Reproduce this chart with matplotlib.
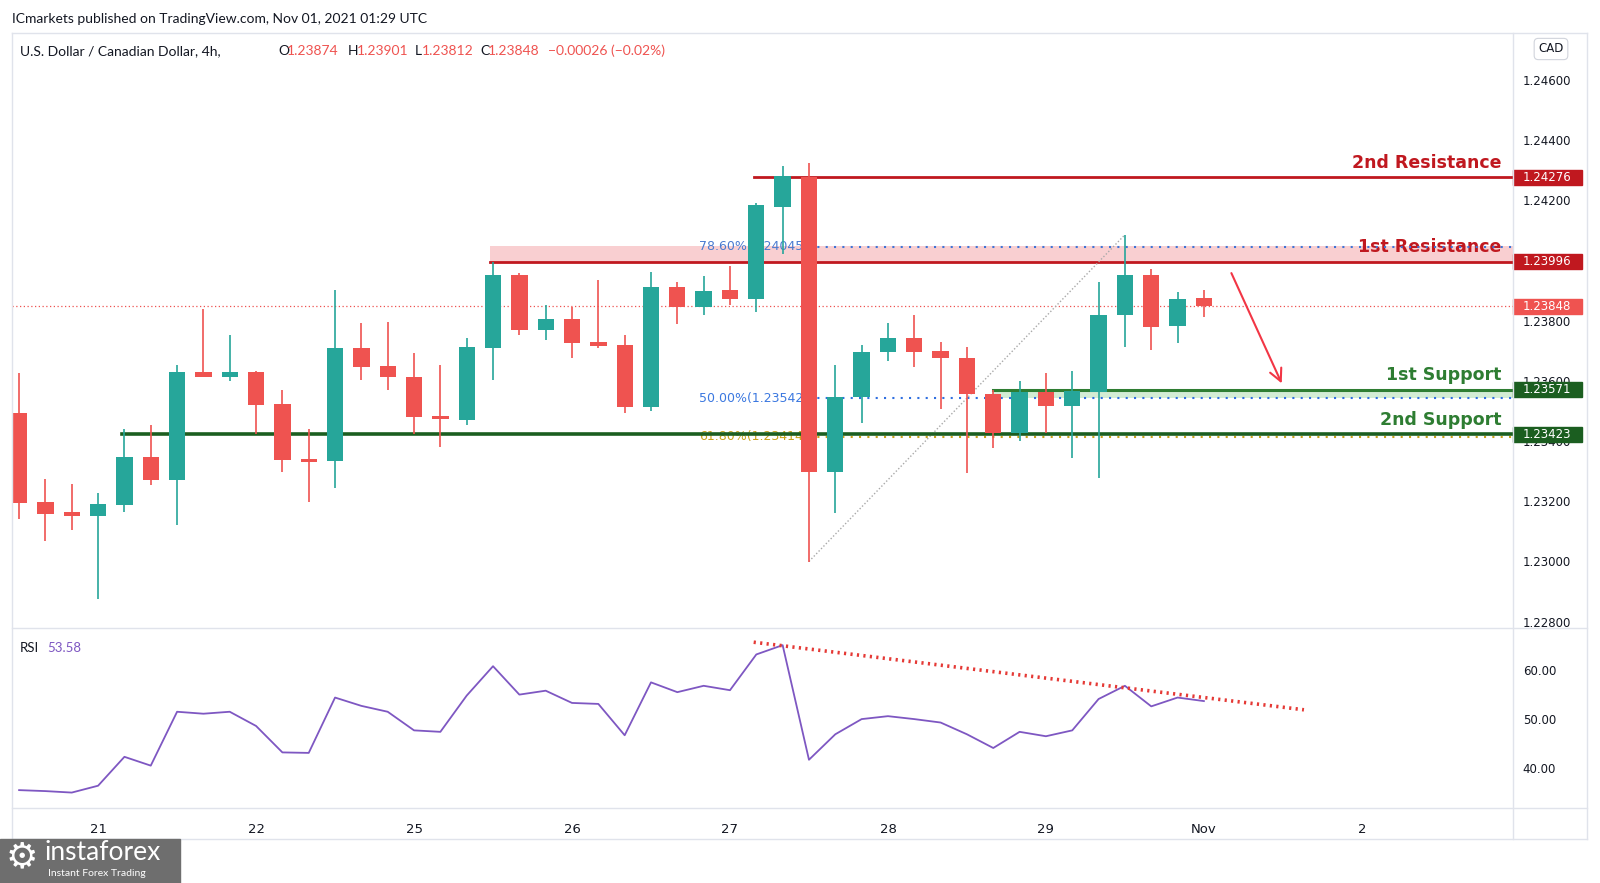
import matplotlib
matplotlib.use("Agg")
import matplotlib.pyplot as plt
from matplotlib.lines import Line2D
from matplotlib.patches import Rectangle
import matplotlib.transforms as mtrans
import numpy as np

# USD/CAD 4h candles (index 0 .. 45)
opens = [1.23492, 1.23197, 1.23164, 1.23152, 1.23189, 1.23347, 1.23270, 1.23628, 1.23614, 1.23629,
         1.23523, 1.23340, 1.23334, 1.23708, 1.23649, 1.23614, 1.23484, 1.23470, 1.23710, 1.23952,
         1.23767, 1.23805, 1.23729, 1.23719, 1.23514, 1.23913, 1.23844, 1.23902, 1.23870, 1.24178,
         1.24278, 1.23298, 1.23545, 1.23695, 1.23741, 1.23699, 1.23677, 1.23556, 1.23425, 1.23562,
         1.23517, 1.23564, 1.23820, 1.23951, 1.23783, 1.23874]
highs = [1.23627, 1.23275, 1.23257, 1.23226, 1.23440, 1.23453, 1.23651, 1.23838, 1.23752, 1.23633,
         1.23569, 1.23440, 1.23901, 1.23793, 1.23796, 1.23691, 1.23652, 1.23743, 1.23996, 1.23957,
         1.23851, 1.23846, 1.23935, 1.23752, 1.23960, 1.23928, 1.23948, 1.23981, 1.24190, 1.24313,
         1.24324, 1.23652, 1.23719, 1.23791, 1.23820, 1.23730, 1.23713, 1.23569, 1.23599, 1.23625,
         1.23633, 1.23929, 1.24084, 1.23971, 1.23896, 1.23901]
lows = [1.23142, 1.23068, 1.23106, 1.22874, 1.23165, 1.23255, 1.23122, 1.23611, 1.23600, 1.23423,
        1.23298, 1.23198, 1.23243, 1.23603, 1.23569, 1.23423, 1.23381, 1.23453, 1.23603, 1.23752,
        1.23735, 1.23675, 1.23708, 1.23494, 1.23498, 1.23787, 1.23820, 1.23852, 1.23827, 1.24021,
        1.22999, 1.23160, 1.23461, 1.23667, 1.23645, 1.23505, 1.23295, 1.23376, 1.23400, 1.23425,
        1.23345, 1.23276, 1.23711, 1.23702, 1.23724, 1.23812]
closes = [1.23193, 1.23159, 1.23152, 1.23191, 1.23347, 1.23270, 1.23629, 1.23614, 1.23629, 1.23521,
          1.23337, 1.23331, 1.23708, 1.23647, 1.23611, 1.23481, 1.23472, 1.23713, 1.23952, 1.23768,
          1.23805, 1.23724, 1.23717, 1.23514, 1.23913, 1.23844, 1.23899, 1.23870, 1.24184, 1.24280,
          1.23298, 1.23545, 1.23695, 1.23741, 1.23697, 1.23675, 1.23555, 1.23425, 1.23562, 1.23517,
          1.23566, 1.23820, 1.23951, 1.23780, 1.23871, 1.23848]
rsi = [35.4, 35.2, 34.9, 36.3, 42.2, 40.4, 51.4, 51.0, 51.4, 48.5, 43.1, 43.0, 54.3, 52.6, 51.4,
       47.6, 47.3, 54.7, 60.7, 54.9, 55.7, 53.2, 53.0, 46.6, 57.4, 55.4, 56.7, 55.8, 63.1, 65.0,
       41.6, 46.8, 49.9, 50.5, 49.9, 49.2, 46.8, 44.0, 47.3, 46.4, 47.6, 54.0, 56.7, 52.5, 54.3, 53.58]

date_pos = [3, 9, 15, 21, 27, 33, 39, 45, 51]
date_labels = ["21", "22", "25", "26", "27", "28", "29", "Nov", "2"]
price_ticks = [1.228, 1.230, 1.232, 1.234, 1.236, 1.238, 1.240, 1.242, 1.244, 1.246]

res2, res1, last, sup1, sup2 = 1.24276, 1.23996, 1.23848, 1.23571, 1.23423
fib786, fib50, fib618 = 1.24045, 1.23542, 1.23414

GREEN, RED = "#26a69a", "#ef5350"
DRED, DGREEN = "#c0181f", "#1b5e20"
TXT = "#131722"
GRID = "#e0e3eb"

plt.rcParams['font.family'] = ['DejaVu Sans']

fig = plt.figure(figsize=(16, 8.83), dpi=100)
W, H = 1600.0, 883.0
def fx(x): return x / W
def fy(y): return 1 - y / H

ax = fig.add_axes([fx(12), fy(628), fx(1513) - fx(12), fy(33) - fy(628)])
ax_r = fig.add_axes([fx(12), fy(808), fx(1513) - fx(12), fy(628) - fy(808)], sharex=ax)

x = np.arange(len(opens))
o, h, l, c = map(np.asarray, (opens, highs, lows, closes))
cols = [GREEN if cc >= oo else RED for oo, cc in zip(o, c)]

# candles
ax.vlines(x, l, h, colors=cols, lw=1.2, zorder=4)
body = np.maximum(np.abs(c - o), 0.00004)
ax.bar(x, body, bottom=np.minimum(o, c), width=0.62, color=cols, zorder=5)

xmax = 56.74
# levels
ax.axhline(last, color=RED, lw=0.9, ls=(0, (1, 2)), zorder=2)
ax.fill_between([17.9, xmax], res1, 1.24047, color="#f9cfd1", zorder=1, lw=0)
ax.plot([17.9, xmax], [res1, res1], color=DRED, lw=2, zorder=3)
ax.plot([27.9, xmax], [res2, res2], color=DRED, lw=2, zorder=3)
ax.fill_between([37.0, xmax], 1.23542, sup1, color="#d3ecd4", zorder=1, lw=0)
ax.plot([37.0, xmax], [sup1, sup1], color="#2e7d32", lw=2.2, zorder=3)
ax.plot([3.9, xmax], [sup2, sup2], color=DGREEN, lw=2.6, zorder=3.5)

# fib levels
ax.plot([30, xmax], [fib786, fib786], color="#3d74d6", lw=1.5, ls=(0, (1, 3)), zorder=3)
ax.plot([30, xmax], [fib50, fib50], color="#2f6fe0", lw=1.5, ls=(0, (1, 3)), zorder=3)
ax.plot([30, xmax], [fib618, fib618], color="#c9a21a", lw=1.5, ls=(0, (1, 3)), zorder=2.5)
ax.plot([30, 42], [1.23000, 1.24085], color="#a9a9a9", lw=1, ls=(0, (1, 1.5)), zorder=3)
ax.text(29.95, fib786, "78.60%(1.24045)", color="#4a7bd0", fontsize=9, ha="right", va="center", zorder=2)
ax.text(29.95, fib50, "50.00%(1.23542)", color="#3b78e0", fontsize=9, ha="right", va="center", zorder=2)
ax.text(29.95, fib618, "61.80%(1.23414)", color="#c9a21a", fontsize=9, ha="right", va="center", zorder=2)

# labels
ax.text(56.3, 1.24322, "2nd Resistance", color=DRED, fontsize=12.5, fontweight="bold", ha="right", va="center", zorder=6)
ax.text(56.3, 1.24044, "1st Resistance", color=DRED, fontsize=12.5, fontweight="bold", ha="right", va="center", zorder=2)
ax.text(56.3, 1.23620, "1st Support", color="#2e7d32", fontsize=12.5, fontweight="bold", ha="right", va="center", zorder=6)
ax.text(56.3, 1.23471, "2nd Support", color="#2e7d32", fontsize=12.5, fontweight="bold", ha="right", va="center", zorder=6)

ax.annotate("", xy=(48.0, 1.23583), xytext=(46.0, 1.23966),
            arrowprops=dict(arrowstyle="->", color="#f23645", lw=1.5, mutation_scale=22), zorder=6)

ax.set_xlim(-0.27, xmax)
ax.set_ylim(1.22779, 1.24755)
ax.yaxis.tick_right()
ax.set_yticks(price_ticks)
ax.set_yticklabels([f"{p:.5f}" for p in price_ticks])
ax.tick_params(axis="y", length=0, pad=7, labelsize=8.5, labelcolor=TXT)
ax.tick_params(axis="x", length=0, labelbottom=False)
for s in ax.spines.values():
    s.set_visible(False)

# price label boxes on the right
bt = mtrans.blended_transform_factory(fig.transFigure, ax.transData)
for val, col in [(res2, DRED), (res1, DRED), (last, RED), (sup1, DGREEN), (sup2, DGREEN)]:
    ax.add_patch(Rectangle((fx(1513), val - 0.00025), fx(1582) - fx(1513), 0.0005,
                           transform=bt, color=col, clip_on=False, zorder=7))
    ax.text(fx(1523), val, f"{val:.5f}", transform=bt, color="white", fontsize=8.5,
            ha="left", va="center", clip_on=False, zorder=8)

# RSI
ax_r.plot(x, rsi, color="#7e57c2", lw=1.3)
ax_r.plot([27.9, 48.8], [65.6, 51.8], color="#e53935", lw=2.6, ls=(0, (0.6, 1.2)))
ax_r.set_ylim(31.75, 68.5)
ax_r.yaxis.tick_right()
ax_r.set_yticks([40, 50, 60])
ax_r.set_yticklabels(["40.00", "50.00", "60.00"])
ax_r.tick_params(axis="y", length=0, pad=7, labelsize=8.5, labelcolor=TXT)
ax_r.set_xticks(date_pos)
ax_r.set_xticklabels(date_labels)
ax_r.tick_params(axis="x", length=0, pad=11, labelsize=9.5, labelcolor=TXT)
for s in ax_r.spines.values():
    s.set_visible(False)

# frame lines
for (x0, y0, x1, y1) in [(12, 33, 1587, 33), (12, 839, 1587, 839), (12, 33, 12, 839),
                         (1587, 33, 1587, 839), (1513, 33, 1513, 839),
                         (12, 628, 1587, 628), (12, 808, 1587, 808)]:
    fig.add_artist(Line2D([fx(x0), fx(x1)], [fy(y0), fy(y1)], color=GRID, lw=1))

# header texts
fig.text(fx(12), fy(19), "ICmarkets published on TradingView.com, Nov 01, 2021 01:29 UTC",
         fontsize=10, family="Lato", color=TXT, va="center")
fig.text(fx(20), fy(51), "U.S. Dollar / Canadian Dollar, 4h,", fontsize=10, family="Lato", color=TXT, va="center")
for xp, s, col in [(278, "O", TXT), (287, "1.23874", RED), (348, "H", TXT), (357, "1.23901", RED),
                   (415, "L", TXT), (422, "1.23812", RED), (480, "C", TXT), (488, "1.23848", RED),
                   (548, "\u22120.00026 (\u22120.02%)", RED)]:
    fig.text(fx(xp), fy(51), s, fontsize=10, family="Lato", color=col, va="center")
fig.text(fx(1551), fy(49), "CAD", fontsize=8.5, color=TXT, ha="center", va="center",
         bbox=dict(boxstyle="round,pad=0.35", fc="white", ec="#d1d4dc", lw=0.8))
fig.text(fx(20), fy(648), "RSI", fontsize=9.5, family="Lato", color=TXT, va="center")
fig.text(fx(47), fy(648), "53.58", fontsize=9.5, family="Lato", color="#7e57c2", va="center")

# instaforex badge
fig.add_artist(Rectangle((0, fy(883)), fx(180), fy(839) - fy(883), transform=fig.transFigure,
                         color="#6e6e6e", zorder=10))
fig.text(fx(22), fy(857), "\u2699", fontsize=26, color="white", ha="center", va="center", zorder=11)
fig.text(fx(44), fy(852), "instaforex", fontsize=19, family="Lato", color="white", va="center", zorder=11)
fig.text(fx(48), fy(874), "Instant Forex Trading", fontsize=7.5, family="Lato", color="white", va="center", zorder=11)

fig.savefig("out.png", dpi=100, facecolor="white")
